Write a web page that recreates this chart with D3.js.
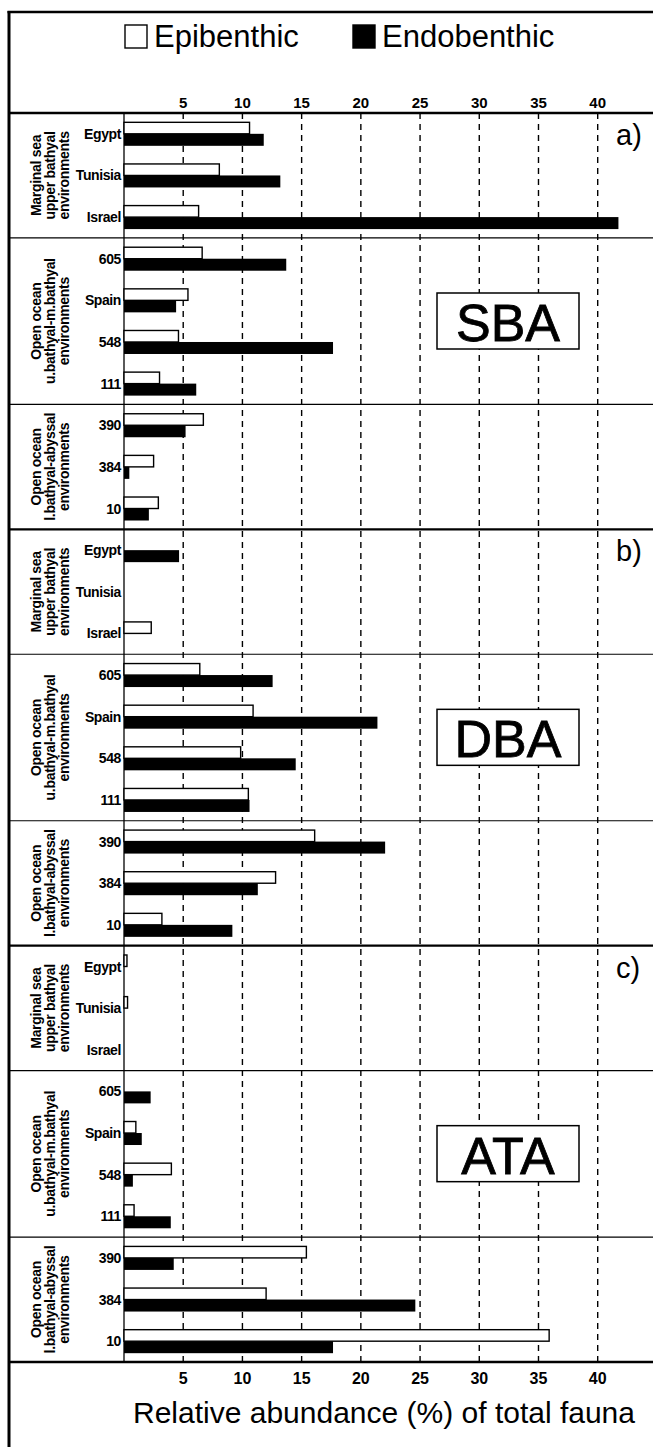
<!DOCTYPE html>
<html>
<head>
<meta charset="utf-8">
<script src="https://cdn.jsdelivr.net/npm/d3@7"></script>
<style>
  html, body { margin: 0; padding: 0; background: #fff; }
  svg { display: block; font-family: "Liberation Sans", Arial, Helvetica, sans-serif; }
</style>
</head>
<body>
<div id="chart"></div>
<script>
// Panels (assemblage type) and their letters
const panelLetters = ["a)", "b)", "c)"];
const panelCodes = ["SBA", "DBA", "ATA"];

// Environment groups within each panel, with their stacked label lines
const groupLabels = [
  ["Marginal sea", "upper bathyal", "environments"],
  ["Open ocean", "u.bathyal-m.bathyal", "environments"],
  ["Open ocean", "l.bathyal-abyssal", "environments"]
];
const groupSamples = [
  ["Egypt", "Tunisia", "Israel"],
  ["605", "Spain", "548", "111"],
  ["390", "384", "10"]
];

// Relative abundance (%) per sample, in the order of groupSamples flattened
const sbaEpi  = [10.6, 8.05, 6.3,   6.6, 5.4, 4.6, 3.0,   6.7, 2.5, 2.9];
const sbaEndo = [11.8, 13.2, 41.75, 13.7, 4.4, 17.65, 6.1, 5.2, 0.45, 2.1];
const dbaEpi  = [0, 0, 2.3,   6.4, 10.9, 9.85, 10.5,   16.1, 12.8, 3.2];
const dbaEndo = [4.65, 0, 0,  12.55, 21.4, 14.5, 10.6,  22.05, 11.3, 9.15];
const ataEpi  = [0.25, 0.3, 0,  0, 1.0, 4.0, 0.85,   15.4, 12.0, 35.9];
const ataEndo = [0, 0, 0,       2.25, 1.5, 0.75, 3.95,  4.2, 24.6, 17.65];

const tickValues = [5, 10, 15, 20, 25, 30, 35, 40];
const seriesNames = ["Epibenthic", "Endobenthic"];
const axisTitle = "Relative abundance (%) of total fauna";

const W = 653, H = 1447;
const frameLeft = 9, frameTop = 12;
const plotTop = 113, plotBottom = 1362;
const x0 = 124;

const svg = d3.select("#chart").append("svg")
  .attr("width", W).attr("height", H);

// Build one row per sample across all panels
const epiByPanel = [sbaEpi, dbaEpi, ataEpi];
const endoByPanel = [sbaEndo, dbaEndo, ataEndo];
const rows = [];
panelCodes.forEach((code, p) => {
  let k = 0;
  groupSamples.forEach((samples, g) => {
    samples.forEach(s => {
      rows.push({ id: code + "-" + s, panel: p, group: g, sample: s,
                  epi: epiByPanel[p][k], endo: endoByPanel[p][k] });
      k++;
    });
  });
});

const x = d3.scaleLinear().domain([0, 40]).range([x0, 597.7]);
const y = d3.scaleBand().domain(rows.map(d => d.id)).range([plotTop, plotBottom]).padding(0);
const barH = 11.5;

// Dashed vertical grid
svg.append("g").selectAll("line").data(tickValues).join("line")
  .attr("x1", d => x(d)).attr("x2", d => x(d))
  .attr("y1", plotTop).attr("y2", plotBottom)
  .attr("stroke", "#000").attr("stroke-width", 1.4)
  .attr("stroke-dasharray", "6,5");

// Zero line
svg.append("line").attr("x1", x(0)).attr("x2", x(0))
  .attr("y1", plotTop).attr("y2", plotBottom)
  .attr("stroke", "#000").attr("stroke-width", 1.3);

// Section separators
const groupStarts = [];
rows.forEach((d, i) => {
  if (i === 0 || rows[i - 1].group !== d.group || rows[i - 1].panel !== d.panel) {
    groupStarts.push({ y: y(d.id), thick: d.group === 0 });
  }
});
groupStarts.push({ y: plotBottom, thick: true });
svg.append("g").selectAll("line").data(groupStarts).join("line")
  .attr("x1", frameLeft).attr("x2", W)
  .attr("y1", d => d.y).attr("y2", d => d.y)
  .attr("stroke", "#000").attr("stroke-width", d => d.thick ? 2.4 : 1.2);

// Frame (left and top edges)
svg.append("line").attr("x1", frameLeft).attr("x2", frameLeft)
  .attr("y1", frameTop - 1).attr("y2", H)
  .attr("stroke", "#000").attr("stroke-width", 3);
svg.append("line").attr("x1", frameLeft - 1.5).attr("x2", W)
  .attr("y1", frameTop).attr("y2", frameTop)
  .attr("stroke", "#000").attr("stroke-width", 2.5);

// Bars
const bars = svg.append("g");
bars.selectAll("rect.epi").data(rows.filter(d => d.epi > 0)).join("rect")
  .attr("class", "epi")
  .attr("x", x(0)).attr("y", d => y(d.id) + y.bandwidth() / 2 - barH)
  .attr("width", d => x(d.epi) - x(0)).attr("height", barH)
  .attr("fill", "#fff").attr("stroke", "#000").attr("stroke-width", 1.4);
bars.selectAll("rect.endo").data(rows.filter(d => d.endo > 0)).join("rect")
  .attr("class", "endo")
  .attr("x", x(0)).attr("y", d => y(d.id) + y.bandwidth() / 2)
  .attr("width", d => x(d.endo) - x(0)).attr("height", barH + 0.5)
  .attr("fill", "#000");

// Sample labels
svg.append("g").selectAll("text").data(rows).join("text")
  .attr("x", x(0) - 3).attr("y", d => y(d.id) + y.bandwidth() / 2)
  .attr("dy", "0.36em").attr("text-anchor", "end")
  .attr("font-size", 14).attr("font-weight", "bold")
  .attr("letter-spacing", -0.4)
  .text(d => d.sample);

// Rotated group labels
const groupBlocks = [];
panelCodes.forEach((code, p) => {
  groupSamples.forEach((samples, g) => {
    const top = y(code + "-" + samples[0]);
    const bottom = y(code + "-" + samples[samples.length - 1]) + y.bandwidth();
    groupBlocks.push({ mid: (top + bottom) / 2, lines: groupLabels[g] });
  });
});
const lineX = [41, 55, 69];
const gl = svg.append("g").selectAll("g").data(groupBlocks).join("g")
  .attr("transform", d => `translate(0,${d.mid})`);
gl.each(function (d) {
  d3.select(this).selectAll("text").data(d.lines).join("text")
    .attr("transform", (t, i) => `translate(${lineX[i]},0) rotate(-90)`)
    .attr("text-anchor", "middle").attr("font-size", 14)
    .attr("font-weight", "bold").attr("letter-spacing", -0.3)
    .text(t => t);
});

// Top and bottom tick labels
svg.append("g").selectAll("text").data(tickValues).join("text")
  .attr("x", d => x(d)).attr("y", 108).attr("text-anchor", "middle")
  .attr("font-size", 15).attr("font-weight", "bold").text(d => d);
svg.append("g").selectAll("text").data(tickValues).join("text")
  .attr("x", d => x(d)).attr("y", 1384).attr("text-anchor", "middle")
  .attr("font-size", 16).attr("font-weight", "bold").text(d => d);

// Axis title
svg.append("text").attr("x", 384).attr("y", 1423).attr("text-anchor", "middle")
  .attr("font-size", 30).text(axisTitle);

// Legend
const legendX = [125, 353];
const lg = svg.append("g").selectAll("g").data(seriesNames).join("g")
  .attr("transform", (d, i) => `translate(${legendX[i]},0)`);
lg.append("rect").attr("x", 0).attr("y", 25).attr("width", 22).attr("height", 23)
  .attr("fill", (d, i) => i === 0 ? "#fff" : "#000")
  .attr("stroke", "#000").attr("stroke-width", 1.4);
lg.append("text").attr("x", 29).attr("y", 47).attr("font-size", 31)
  .text(d => d);

// Panel letters and code boxes
const panelTops = panelCodes.map(c => y(c + "-" + groupSamples[0][0]));
svg.append("g").selectAll("text").data(panelLetters).join("text")
  .attr("x", 616).attr("y", (d, i) => panelTops[i] + 32)
  .attr("font-size", 29).text(d => d);
const cb = svg.append("g").selectAll("g").data(panelCodes).join("g")
  .attr("transform", (d, i) => `translate(437,${panelTops[i] + 180})`);
cb.append("rect").attr("width", 142).attr("height", 56)
  .attr("fill", "#fff").attr("stroke", "#000").attr("stroke-width", 1.5);
cb.append("text").attr("x", 71).attr("y", 48).attr("text-anchor", "middle")
  .attr("font-size", 52).attr("stroke", "#000").attr("stroke-width", 0.8)
  .text(d => d);
</script>
</body>
</html>
